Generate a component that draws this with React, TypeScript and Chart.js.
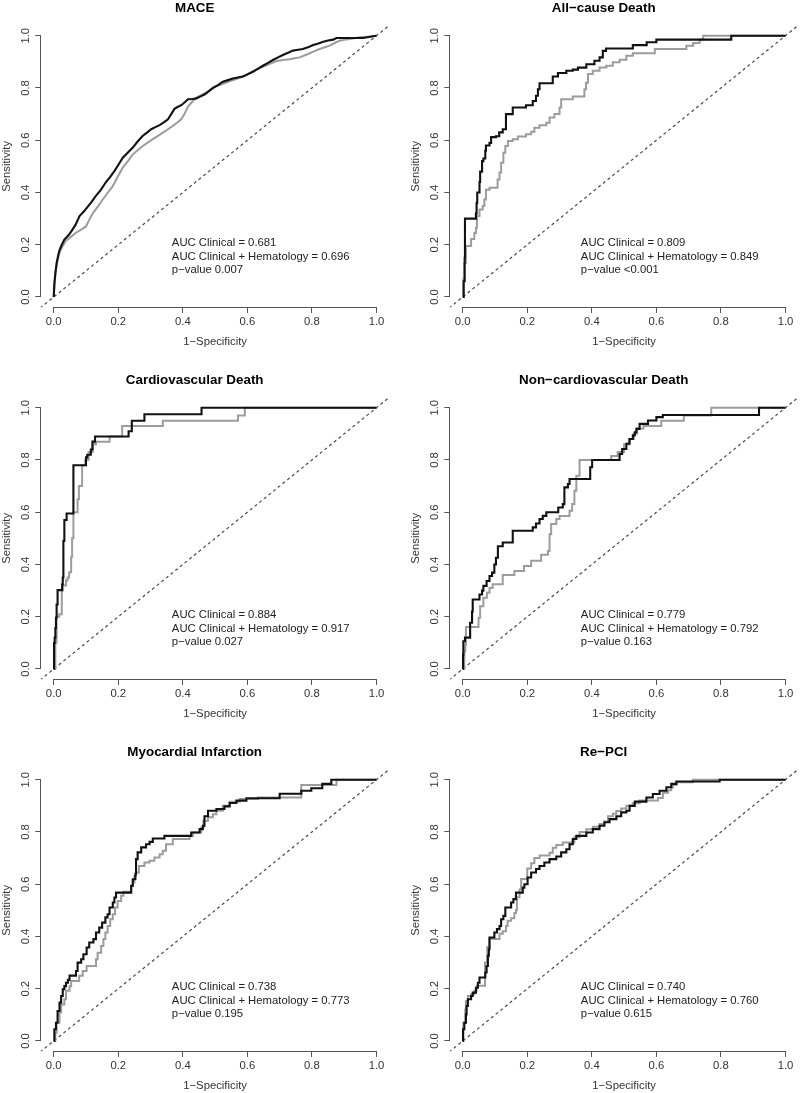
import React, { useEffect, useRef } from "react";
import { Chart, registerables } from "chart.js";

Chart.register(...registerables);

type Pt = [number, number];

const FONT = "'Liberation Sans', Arial, Helvetica, sans-serif";
const BLACK = "#111111";
const GRAY = "#9c9c9c";
const AXIS = "#555555";
const TEXT = "#333333";

// ---- axis ticks ----
const tickValues = [0, 0.2, 0.4, 0.6, 0.8, 1.0];
const tickLabels = ["0.0", "0.2", "0.4", "0.6", "0.8", "1.0"];
const xAxisTitle = "1\u2212Specificity";
const yAxisTitle = "Sensitivity";

// ---- panel texts ----
const panelTitles = [
  "MACE",
  "All\u2212cause Death",
  "Cardiovascular Death",
  "Non\u2212cardiovascular Death",
  "Myocardial Infarction",
  "Re\u2212PCI",
];
const aucClinical = ["0.681", "0.809", "0.884", "0.779", "0.738", "0.740"];
const aucCombined = ["0.696", "0.849", "0.917", "0.792", "0.773", "0.760"];
const pValues = ["0.007", "<0.001", "0.027", "0.163", "0.195", "0.615"];
const annotX = 0.366;
const annotY = [0.207, 0.155, 0.103];

// ---- ROC curves: [1-specificity, sensitivity] ----
// black = Clinical + Hematology, gray = Clinical
const maceCombined: Pt[] = [
  [0, 0], [0.002, 0.05], [0.005, 0.09], [0.009, 0.13], [0.014, 0.16], [0.018, 0.18], [0.025, 0.2],
  [0.033, 0.22], [0.045, 0.235], [0.054, 0.25], [0.067, 0.275], [0.08, 0.31], [0.092, 0.325],
  [0.105, 0.345], [0.118, 0.365], [0.13, 0.386], [0.146, 0.41], [0.162, 0.44], [0.175, 0.46],
  [0.188, 0.482], [0.2, 0.505], [0.214, 0.533], [0.23, 0.553], [0.245, 0.572], [0.26, 0.595],
  [0.276, 0.617], [0.29, 0.63], [0.302, 0.642], [0.315, 0.65], [0.328, 0.658], [0.341, 0.668],
  [0.354, 0.68], [0.364, 0.7], [0.374, 0.72], [0.385, 0.728], [0.395, 0.734], [0.406, 0.745],
  [0.416, 0.757], [0.43, 0.758], [0.442, 0.76], [0.455, 0.768], [0.467, 0.775], [0.48, 0.787],
  [0.493, 0.8], [0.51, 0.812], [0.524, 0.824], [0.54, 0.83], [0.555, 0.836], [0.57, 0.84],
  [0.586, 0.844], [0.6, 0.852], [0.617, 0.862], [0.632, 0.873], [0.648, 0.885], [0.664, 0.896],
  [0.679, 0.907], [0.695, 0.917], [0.71, 0.926], [0.726, 0.935], [0.741, 0.943], [0.757, 0.946],
  [0.772, 0.949], [0.79, 0.957], [0.804, 0.964], [0.82, 0.97], [0.835, 0.977], [0.85, 0.982],
  [0.866, 0.985], [0.876, 0.991], [0.959, 0.991], [0.98, 0.996], [1, 1],
];
const maceClinical: Pt[] = [
  [0, 0], [0.003, 0.06], [0.007, 0.105], [0.012, 0.14], [0.018, 0.17], [0.028, 0.195], [0.038, 0.215],
  [0.053, 0.23], [0.069, 0.246], [0.085, 0.258], [0.1, 0.27], [0.11, 0.295], [0.121, 0.32],
  [0.136, 0.345], [0.152, 0.373], [0.168, 0.4], [0.183, 0.424], [0.198, 0.46], [0.214, 0.495],
  [0.23, 0.52], [0.245, 0.546], [0.26, 0.562], [0.276, 0.578], [0.292, 0.592], [0.307, 0.604],
  [0.322, 0.616], [0.338, 0.629], [0.354, 0.642], [0.369, 0.655], [0.383, 0.668], [0.395, 0.68],
  [0.405, 0.7], [0.416, 0.729], [0.43, 0.748], [0.442, 0.763], [0.457, 0.773], [0.473, 0.783],
  [0.49, 0.795], [0.504, 0.806], [0.52, 0.814], [0.535, 0.821], [0.55, 0.828], [0.566, 0.834],
  [0.582, 0.842], [0.597, 0.849], [0.612, 0.86], [0.628, 0.87], [0.644, 0.879], [0.659, 0.887],
  [0.675, 0.895], [0.69, 0.903], [0.71, 0.907], [0.731, 0.91], [0.746, 0.914], [0.762, 0.917],
  [0.778, 0.925], [0.793, 0.933], [0.808, 0.941], [0.824, 0.949], [0.84, 0.956], [0.855, 0.962],
  [0.87, 0.972], [0.886, 0.981], [0.9, 0.984], [0.917, 0.987], [0.948, 0.994], [0.98, 0.997], [1, 1],
];

const allCauseCombined: Pt[] = [
  [0, 0], [0.003, 0.06], [0.006, 0.15], [0.007, 0.3], [0.041, 0.32], [0.043, 0.36], [0.045, 0.4],
  [0.052, 0.44], [0.054, 0.48], [0.06, 0.52], [0.064, 0.53], [0.07, 0.56], [0.072, 0.58],
  [0.083, 0.59], [0.088, 0.612], [0.103, 0.615], [0.113, 0.63], [0.124, 0.642], [0.134, 0.7],
  [0.155, 0.725], [0.196, 0.734], [0.217, 0.75], [0.227, 0.77], [0.233, 0.795], [0.238, 0.818],
  [0.279, 0.844], [0.295, 0.857], [0.321, 0.866], [0.341, 0.87], [0.357, 0.878], [0.383, 0.891],
  [0.408, 0.904], [0.424, 0.917], [0.434, 0.942], [0.444, 0.951], [0.527, 0.964], [0.57, 0.975],
  [0.6, 0.985], [0.832, 1.0], [1, 1],
];
const allCauseClinical: Pt[] = [
  [0, 0], [0.002, 0.07], [0.005, 0.13], [0.01, 0.195], [0.026, 0.222], [0.036, 0.245], [0.041, 0.265],
  [0.044, 0.31], [0.052, 0.335], [0.062, 0.348], [0.067, 0.373], [0.072, 0.41], [0.083, 0.418],
  [0.108, 0.45], [0.114, 0.476], [0.119, 0.514], [0.126, 0.552], [0.132, 0.578], [0.14, 0.597],
  [0.155, 0.604], [0.171, 0.614], [0.196, 0.623], [0.212, 0.632], [0.222, 0.648], [0.238, 0.657],
  [0.259, 0.667], [0.269, 0.687], [0.284, 0.7], [0.3, 0.725], [0.305, 0.757], [0.341, 0.767],
  [0.377, 0.795], [0.382, 0.82], [0.388, 0.853], [0.403, 0.866], [0.424, 0.878], [0.445, 0.885],
  [0.465, 0.898], [0.486, 0.908], [0.507, 0.923], [0.527, 0.933], [0.595, 0.949], [0.693, 0.962],
  [0.714, 0.972], [0.734, 0.985], [0.745, 1.0], [1, 1],
];

const cvCombined: Pt[] = [
  [0, 0], [0.001, 0.1], [0.003, 0.12], [0.005, 0.157], [0.007, 0.196], [0.009, 0.247], [0.012, 0.302],
  [0.026, 0.324], [0.028, 0.35], [0.03, 0.49], [0.033, 0.57], [0.04, 0.595], [0.061, 0.78],
  [0.1, 0.81], [0.104, 0.82], [0.115, 0.84], [0.12, 0.87], [0.128, 0.89], [0.232, 0.91],
  [0.242, 0.95], [0.281, 0.975], [0.458, 1.0], [1, 1],
];
const cvClinical: Pt[] = [
  [0, 0], [0.005, 0.1], [0.009, 0.2], [0.017, 0.21], [0.025, 0.3], [0.028, 0.32], [0.038, 0.34],
  [0.043, 0.35], [0.048, 0.37], [0.054, 0.43], [0.057, 0.5], [0.061, 0.6], [0.074, 0.65],
  [0.078, 0.7], [0.088, 0.78], [0.098, 0.8], [0.108, 0.83], [0.121, 0.86], [0.131, 0.87],
  [0.173, 0.89], [0.212, 0.93], [0.338, 0.95], [0.571, 0.97], [0.592, 1.0], [1, 1],
];

const nonCvCombined: Pt[] = [
  [0, 0], [0.001, 0.055], [0.002, 0.106], [0.007, 0.12], [0.023, 0.177], [0.029, 0.22], [0.031, 0.266],
  [0.052, 0.285], [0.06, 0.3], [0.064, 0.318], [0.074, 0.337], [0.083, 0.356], [0.091, 0.369],
  [0.098, 0.4], [0.103, 0.426], [0.109, 0.47], [0.124, 0.484], [0.155, 0.529], [0.217, 0.542],
  [0.227, 0.557], [0.238, 0.574], [0.248, 0.586], [0.259, 0.6], [0.296, 0.618], [0.31, 0.631],
  [0.315, 0.695], [0.326, 0.708], [0.331, 0.727], [0.395, 0.772], [0.401, 0.8], [0.486, 0.823],
  [0.494, 0.842], [0.507, 0.862], [0.517, 0.88], [0.527, 0.894], [0.533, 0.906], [0.538, 0.919],
  [0.548, 0.938], [0.574, 0.951], [0.6, 0.964], [0.62, 0.972], [0.918, 1.0], [1, 1],
];
const nonCvClinical: Pt[] = [
  [0, 0], [0.005, 0.068], [0.008, 0.093], [0.01, 0.161], [0.049, 0.196], [0.054, 0.24], [0.064, 0.273],
  [0.075, 0.292], [0.083, 0.31], [0.093, 0.324], [0.124, 0.36], [0.16, 0.375], [0.19, 0.394],
  [0.212, 0.414], [0.243, 0.437], [0.264, 0.452], [0.269, 0.516], [0.274, 0.555], [0.29, 0.574],
  [0.3, 0.586], [0.331, 0.606], [0.339, 0.631], [0.346, 0.682], [0.352, 0.74], [0.362, 0.8],
  [0.46, 0.815], [0.48, 0.83], [0.5, 0.86], [0.515, 0.88], [0.53, 0.9], [0.54, 0.92], [0.56, 0.93],
  [0.615, 0.95], [0.685, 0.97], [0.77, 1.0], [1, 1],
];

const miCombined: Pt[] = [
  [0, 0], [0.002, 0.045], [0.007, 0.07], [0.012, 0.115], [0.018, 0.147], [0.023, 0.172], [0.028, 0.198],
  [0.033, 0.21], [0.038, 0.223], [0.044, 0.234], [0.049, 0.25], [0.069, 0.268], [0.074, 0.3],
  [0.085, 0.313], [0.092, 0.332], [0.102, 0.358], [0.11, 0.377], [0.123, 0.39], [0.131, 0.415],
  [0.141, 0.434], [0.15, 0.453], [0.16, 0.473], [0.167, 0.485], [0.173, 0.511], [0.183, 0.53],
  [0.188, 0.549], [0.193, 0.568], [0.24, 0.594], [0.245, 0.619], [0.253, 0.639], [0.255, 0.696],
  [0.26, 0.722], [0.271, 0.741], [0.286, 0.753], [0.297, 0.762], [0.307, 0.775], [0.343, 0.785],
  [0.426, 0.798], [0.452, 0.811], [0.462, 0.824], [0.467, 0.86], [0.478, 0.881], [0.504, 0.888],
  [0.529, 0.898], [0.545, 0.911], [0.566, 0.92], [0.597, 0.929], [0.7, 0.946], [0.767, 0.958],
  [0.798, 0.967], [0.832, 0.984], [0.86, 1.0], [1, 1],
];
const miClinical: Pt[] = [
  [0, 0], [0.005, 0.032], [0.009, 0.07], [0.018, 0.109], [0.023, 0.14], [0.033, 0.16], [0.038, 0.192],
  [0.049, 0.21], [0.054, 0.23], [0.079, 0.25], [0.09, 0.268], [0.102, 0.287], [0.131, 0.313],
  [0.136, 0.338], [0.147, 0.364], [0.154, 0.39], [0.16, 0.415], [0.167, 0.44], [0.175, 0.466],
  [0.183, 0.485], [0.19, 0.511], [0.198, 0.536], [0.209, 0.556], [0.216, 0.571], [0.24, 0.594],
  [0.245, 0.607], [0.25, 0.632], [0.255, 0.645], [0.264, 0.67], [0.281, 0.683], [0.297, 0.69],
  [0.312, 0.702], [0.328, 0.715], [0.338, 0.728], [0.348, 0.753], [0.369, 0.773], [0.421, 0.785],
  [0.431, 0.798], [0.457, 0.817], [0.464, 0.843], [0.478, 0.856], [0.493, 0.868], [0.504, 0.881],
  [0.524, 0.9], [0.545, 0.916], [0.576, 0.926], [0.633, 0.932], [0.767, 0.98], [0.876, 1.0], [1, 1],
];

const rePciCombined: Pt[] = [
  [0, 0], [0.001, 0.045], [0.005, 0.07], [0.01, 0.102], [0.012, 0.134], [0.016, 0.16], [0.026, 0.172],
  [0.031, 0.185], [0.041, 0.204], [0.047, 0.223], [0.052, 0.243], [0.07, 0.262], [0.074, 0.287],
  [0.078, 0.326], [0.081, 0.351], [0.083, 0.396], [0.098, 0.415], [0.106, 0.428], [0.114, 0.44],
  [0.119, 0.466], [0.126, 0.479], [0.132, 0.511], [0.15, 0.53], [0.157, 0.543], [0.165, 0.568],
  [0.186, 0.587], [0.191, 0.6], [0.201, 0.626], [0.212, 0.645], [0.227, 0.658], [0.238, 0.67],
  [0.253, 0.683], [0.269, 0.696], [0.29, 0.706], [0.305, 0.722], [0.321, 0.734], [0.331, 0.753],
  [0.341, 0.773], [0.352, 0.785], [0.383, 0.798], [0.403, 0.811], [0.424, 0.824], [0.439, 0.837],
  [0.455, 0.849], [0.476, 0.86], [0.491, 0.875], [0.507, 0.881], [0.517, 0.9], [0.533, 0.916],
  [0.569, 0.932], [0.589, 0.945], [0.61, 0.958], [0.631, 0.971], [0.646, 0.984], [0.662, 0.993],
  [0.796, 1.0], [1, 1],
];
const rePciClinical: Pt[] = [
  [0, 0], [0.002, 0.07], [0.008, 0.121], [0.01, 0.153], [0.016, 0.172], [0.026, 0.179], [0.036, 0.192],
  [0.043, 0.211], [0.069, 0.3], [0.076, 0.36], [0.083, 0.39], [0.114, 0.41], [0.124, 0.42],
  [0.134, 0.44], [0.139, 0.46], [0.15, 0.47], [0.16, 0.49], [0.165, 0.5], [0.168, 0.55],
  [0.176, 0.58], [0.181, 0.62], [0.2, 0.66], [0.212, 0.68], [0.222, 0.7], [0.238, 0.71],
  [0.269, 0.72], [0.279, 0.74], [0.29, 0.75], [0.31, 0.76], [0.346, 0.78], [0.362, 0.8],
  [0.383, 0.81], [0.403, 0.82], [0.424, 0.83], [0.439, 0.84], [0.45, 0.86], [0.465, 0.87],
  [0.476, 0.88], [0.491, 0.89], [0.507, 0.9], [0.527, 0.91], [0.548, 0.92], [0.605, 0.93],
  [0.62, 0.95], [0.636, 0.96], [0.646, 0.97], [0.651, 0.98], [0.662, 0.99], [0.713, 1.0], [1, 1],
];

const combinedCurves = [maceCombined, allCauseCombined, cvCombined, nonCvCombined, miCombined, rePciCombined];
const clinicalCurves = [maceClinical, allCauseClinical, cvClinical, nonCvClinical, miClinical, rePciClinical];
const steppedPanels = [false, true, true, true, true, true];
const diagonal: Pt[] = [[-0.1, -0.1], [1.1, 1.1]];

// ---- layout (px) ----
const CANVAS_H = 372;
const COL_LEFT = [0, 409];
const COL_WIDTH = [400, 391];
const AREA_LEFT = 40.8;
const AREA_RIGHT = 389.4;
const AREA_TOP = 25.25;
const AREA_BOTTOM = 307.45;
const TITLE_SIZE = 13.4;
const TITLE_PAD_TOP = 1.8;
const BASE_SIZE = 11.3;

const alignPx = (p: number) => Math.round(p - 0.5) + 0.5;

const rStylePlugin = {
  id: "rStyle",
  afterDatasetsDraw(chart: any, _args: any, opts: any) {
    const { ctx } = chart;
    const x = chart.scales.x;
    const y = chart.scales.y;
    const lines: string[] = opts.lines || [];
    ctx.save();
    ctx.font = `${BASE_SIZE}px ${FONT}`;
    ctx.fillStyle = "#222222";
    ctx.textAlign = "left";
    ctx.textBaseline = "middle";
    lines.forEach((t, i) => {
      ctx.fillText(t, x.getPixelForValue(annotX), y.getPixelForValue(annotY[i]));
    });
    ctx.restore();
  },
  afterDraw(chart: any) {
    const { ctx, chartArea } = chart;
    const x = chart.scales.x;
    const y = chart.scales.y;
    ctx.save();
    ctx.strokeStyle = AXIS;
    ctx.lineWidth = 1;
    const by = alignPx(chartArea.bottom);
    ctx.beginPath();
    ctx.moveTo(alignPx(x.getPixelForValue(0)) - 0.5, by);
    ctx.lineTo(alignPx(x.getPixelForValue(1)) + 0.5, by);
    ctx.stroke();
    const lx = alignPx(chartArea.left);
    ctx.beginPath();
    ctx.moveTo(lx, alignPx(y.getPixelForValue(0)) + 0.5);
    ctx.lineTo(lx, alignPx(y.getPixelForValue(1)) - 0.5);
    ctx.stroke();
    ctx.restore();
  },
};

const toXY = (pts: Pt[]) => pts.map(([x, y]) => ({ x, y }));

function RocPanel({ index }: { index: number }) {
  const ref = useRef<HTMLCanvasElement>(null);
  const col = index % 2;
  const row = Math.floor(index / 2);
  const width = COL_WIDTH[col];

  useEffect(() => {
    if (!ref.current) return;
    const stepped = steppedPanels[index] ? "before" : false;
    const scaleCommon = {
      type: "linear",
      min: -0.04,
      max: 1.04,
      afterBuildTicks: (s: any) => {
        s.ticks = tickValues.map((v) => ({ value: v }));
      },
      grid: {
        display: true,
        drawOnChartArea: false,
        drawTicks: true,
        tickLength: 5.5,
        tickColor: AXIS,
        tickWidth: 1,
      },
      border: { display: false },
    };
    const chart = new Chart(ref.current, {
      type: "scatter",
      data: {
        datasets: [
          {
            data: toXY(combinedCurves[index]),
            showLine: true,
            borderColor: BLACK,
            backgroundColor: BLACK,
            borderWidth: 2.1,
            pointRadius: 0,
            stepped,
            tension: 0,
          },
          {
            data: toXY(clinicalCurves[index]),
            showLine: true,
            borderColor: GRAY,
            backgroundColor: GRAY,
            borderWidth: 2,
            pointRadius: 0,
            stepped,
            tension: 0,
          },
          {
            data: toXY(diagonal),
            showLine: true,
            borderColor: "#4a4a4a",
            borderWidth: 1.2,
            borderDash: [3, 3],
            pointRadius: 0,
            clip: 0,
          },
        ],
      } as any,
      options: {
        responsive: false,
        animation: false,
        devicePixelRatio: 1,
        events: [],
        layout: { padding: { left: 0, top: 0, right: width - AREA_RIGHT, bottom: 0 } },
        plugins: {
          legend: { display: false },
          tooltip: { enabled: false },
          title: {
            display: true,
            text: panelTitles[index],
            color: "#000000",
            font: { family: FONT, size: TITLE_SIZE, weight: "bold", lineHeight: 1 },
            padding: { top: TITLE_PAD_TOP, bottom: AREA_TOP - TITLE_SIZE - TITLE_PAD_TOP },
          },
          rStyle: {
            lines: [
              `AUC Clinical = ${aucClinical[index]}`,
              `AUC Clinical + Hematology = ${aucCombined[index]}`,
              `p\u2212value ${pValues[index]}`,
            ],
          },
        } as any,
        scales: {
          x: {
            ...scaleCommon,
            position: "bottom",
            afterFit: (s: any) => {
              s.height = CANVAS_H - AREA_BOTTOM;
            },
            ticks: {
              autoSkip: false,
              minRotation: 0,
              maxRotation: 0,
              padding: 2,
              color: TEXT,
              font: { family: FONT, size: BASE_SIZE },
              callback: (_v: any, i: number) => tickLabels[i],
            },
            title: {
              display: true,
              text: xAxisTitle,
              color: TEXT,
              font: { family: FONT, size: BASE_SIZE },
              padding: { top: 0, bottom: 23.8 },
            },
          },
          y: {
            ...scaleCommon,
            position: "left",
            afterFit: (s: any) => {
              s.width = AREA_LEFT;
            },
            ticks: {
              autoSkip: false,
              minRotation: 90,
              maxRotation: 90,
              crossAlign: "center",
              padding: 1.3,
              color: TEXT,
              font: { family: FONT, size: BASE_SIZE },
              callback: (_v: any, i: number) => tickLabels[i],
            },
            title: {
              display: true,
              text: yAxisTitle,
              color: TEXT,
              font: { family: FONT, size: BASE_SIZE },
              padding: { top: 0.5, bottom: 0 },
            },
          },
        } as any,
      },
      plugins: [rStylePlugin as any],
    } as any);
    return () => chart.destroy();
  }, [index, width]);

  return (
    <canvas
      ref={ref}
      width={width}
      height={CANVAS_H}
      style={{
        position: "absolute",
        left: COL_LEFT[col],
        top: row * CANVAS_H,
        width,
        height: CANVAS_H,
        display: "block",
      }}
    />
  );
}

export default function App() {
  return (
    <div
      style={{
        position: "absolute",
        left: 0,
        top: 0,
        width: 800,
        height: 1093,
        overflow: "hidden",
        background: "#ffffff",
      }}
    >
      {panelTitles.map((_, i) => (
        <RocPanel key={i} index={i} />
      ))}
    </div>
  );
}
